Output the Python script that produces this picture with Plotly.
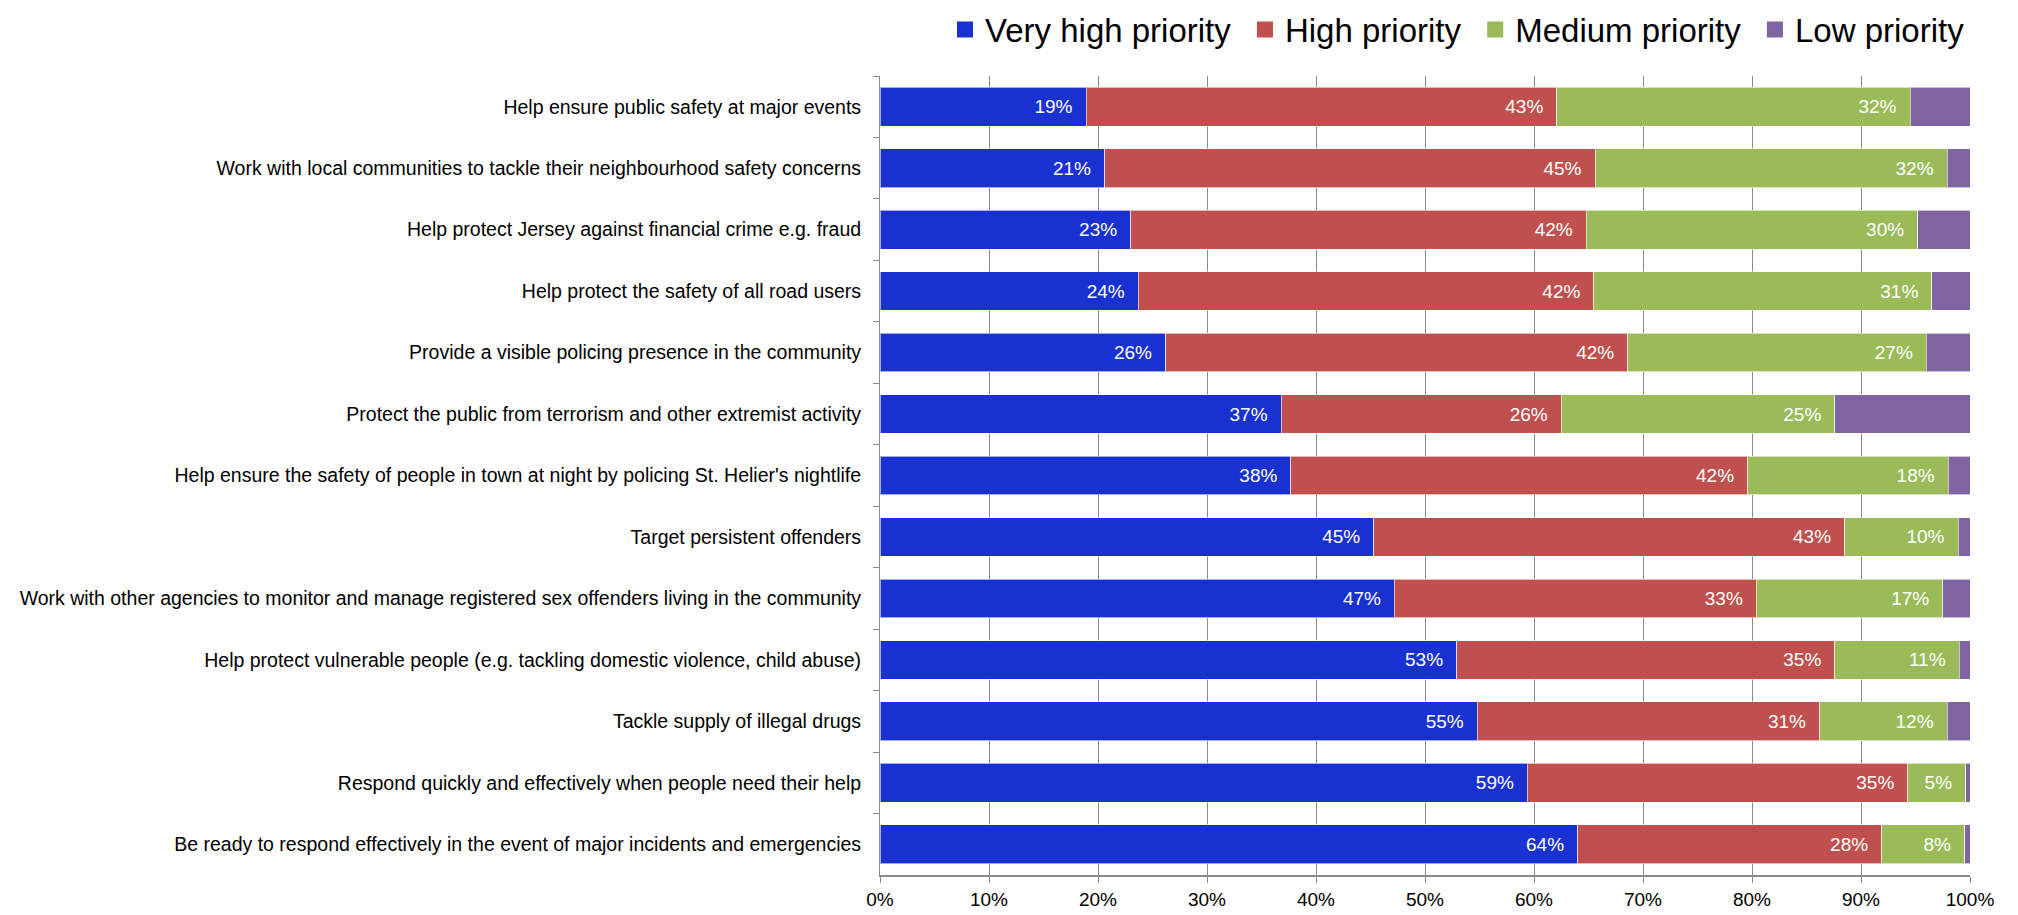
import plotly.graph_objects as go

categories = [
    "Help ensure public safety at major events",
    "Work with local communities to tackle their neighbourhood safety concerns",
    "Help protect Jersey against financial crime e.g. fraud",
    "Help protect the safety of all road users",
    "Provide a visible policing presence in the community",
    "Protect the public from terrorism and other extremist activity",
    "Help ensure the safety of people in town at night by policing St. Helier's nightlife",
    "Target persistent offenders",
    "Work with other agencies to monitor and manage registered sex offenders living in the community",
    "Help protect vulnerable people (e.g. tackling domestic violence, child abuse)",
    "Tackle supply of illegal drugs",
    "Respond quickly and effectively when people need their help",
    "Be ready to respond effectively in the event of major incidents and emergencies",
]

very_high = [18.9, 20.6, 23.0, 23.7, 26.2, 36.8, 37.7, 45.3, 47.2, 52.9, 54.8, 59.4, 64.0]
high      = [43.2, 45.0, 41.8, 41.8, 42.4, 25.7, 41.9, 43.2, 33.2, 34.7, 31.4, 34.9, 27.9]
medium    = [32.4, 32.3, 30.4, 31.0, 27.4, 25.1, 18.4, 10.4, 17.1, 11.4, 11.7, 5.3, 7.6]
low       = [5.5, 2.1, 4.8, 3.5, 4.0, 12.4, 2.0, 1.1, 2.5, 1.0, 2.1, 0.4, 0.5]

series_names = ["Very high priority", "High priority", "Medium priority", "Low priority"]
series_values = [very_high, high, medium, low]
series_colors = ["#1931D1", "#C0504D", "#9BBB59", "#8064A2"]
series_labelled = [True, True, True, False]

FONT = "Liberation Sans, Arial, sans-serif"
PAD = "\u00a0\u00a0"

fig = go.Figure()
for i, (name, vals, color, labelled) in enumerate(zip(series_names, series_values, series_colors, series_labelled)):
    fig.add_trace(go.Bar(
        y=categories, x=vals, name=name, orientation="h",
        marker=dict(color=color, line=dict(color="rgba(255,255,255,0.6)", width=1)),
        texttemplate=("%{x:.0f}%" + PAD) if labelled else None,
        textposition="inside" if labelled else "none",
        insidetextanchor="end",
        textangle=0,
        constraintext="none",
        textfont=dict(color="white", size=19, family=FONT),
        showlegend=False,
    ))
    # legend swatch
    legend_name = name + ("\u00a0" if i < len(series_names) - 1 else "")
    fig.add_trace(go.Scatter(
        x=[None], y=[None], mode="markers", name=legend_name,
        marker=dict(symbol="square", size=22, color=color),
        showlegend=True, hoverinfo="skip",
    ))

fig.update_layout(
    barmode="stack",
    bargap=0.37,
    width=2018, height=915,
    margin=dict(l=872, r=56, t=68, b=48, autoexpand=False),
    plot_bgcolor="white", paper_bgcolor="white",
    font=dict(family=FONT, color="black"),
    legend=dict(
        orientation="h", x=1.0, xanchor="right", y=1.058, yanchor="middle",
        font=dict(size=33, family=FONT), traceorder="normal",
        itemwidth=30, itemsizing="trace",
    ),
    xaxis=dict(
        range=[0, 100], tickvals=[0, 10, 20, 30, 40, 50, 60, 70, 80, 90, 100],
        ticktext=["0%", "10%", "20%", "30%", "40%", "50%", "60%", "70%", "80%", "90%", "100%"],
        showgrid=True, gridcolor="#8A8A8A", gridwidth=1,
        showline=True, linecolor="#8A8A8A", linewidth=2,
        ticks="outside", ticklen=6, tickcolor="#8A8A8A",
        tickfont=dict(size=19, family=FONT), zeroline=False,
        automargin=False,
    ),
    yaxis=dict(
        autorange="reversed", type="category",
        showline=True, linecolor="#8A8A8A", linewidth=1,
        ticks="outside", ticklen=6, tickcolor="#8A8A8A", tickson="boundaries",
        tickfont=dict(size=19.5, family=FONT), ticklabelstandoff=14,
        showgrid=False, automargin=False,
    ),
)

fig.write_html("out.html")
